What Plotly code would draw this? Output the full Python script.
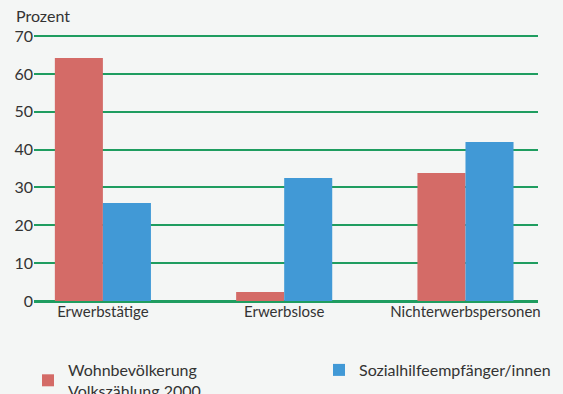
import plotly.graph_objects as go

categories = ["Erwerbstätige", "Erwerbslose", "Nichterwerbspersonen"]
wohn = [64.2, 2.4, 33.8]
sozial = [25.9, 32.5, 42.0]
series_names = ["Wohnbevölkerung<br>Volkszählung 2000", "Sozialhilfeempfänger/innen"]
y_ticks = [0, 10, 20, 30, 40, 50, 60, 70]

font_family = "Lato, 'Open Sans', sans-serif"
W, H = 563, 394
fig = go.Figure()
fig.add_trace(go.Bar(x=categories, y=wohn, name=series_names[0], legend="legend",
                     marker=dict(color="#d46b67", line_width=0)))
fig.add_trace(go.Bar(x=categories, y=sozial, name=series_names[1], legend="legend2",
                     marker=dict(color="#4199d6", line_width=0)))

leg_common = dict(xref="container", yref="container", yanchor="top", xanchor="left",
                  font=dict(size=16, color="#333333"), itemwidth=30,
                  bgcolor="rgba(0,0,0,0)")
fig.update_layout(
    width=W, height=H,
    margin=dict(l=34, r=25, t=34, b=93, autoexpand=False),
    paper_bgcolor="#f4f6f5", plot_bgcolor="#f4f6f5",
    barmode="group", bargap=0.47, bargroupgap=0,
    font=dict(family=font_family, size=15, color="#333333"),
    showlegend=True,
    legend=dict(x=28 / W, y=1 - 353 / H, **leg_common),
    legend2=dict(x=319 / W, y=1 - 353 / H, **leg_common),
    annotations=[dict(text="Prozent", xref="paper", yref="paper", x=-20 / 504, y=1 + 7 / 267,
                      xanchor="left", yanchor="bottom", showarrow=False,
                      font=dict(size=16, color="#333333"))],
)
fig.update_xaxes(range=[-0.38, 2.40], showgrid=False, showline=False, ticks="",
                 tickfont=dict(size=15), fixedrange=True)
fig.update_yaxes(range=[0, 70.55], tickvals=y_ticks, showgrid=True, gridcolor="#1f9d60",
                 gridwidth=1.5, zeroline=True, zerolinecolor="#1f9d60", zerolinewidth=2.5,
                 showline=False, ticks="", tickfont=dict(size=16), fixedrange=True)

fig.write_html("out.html")
